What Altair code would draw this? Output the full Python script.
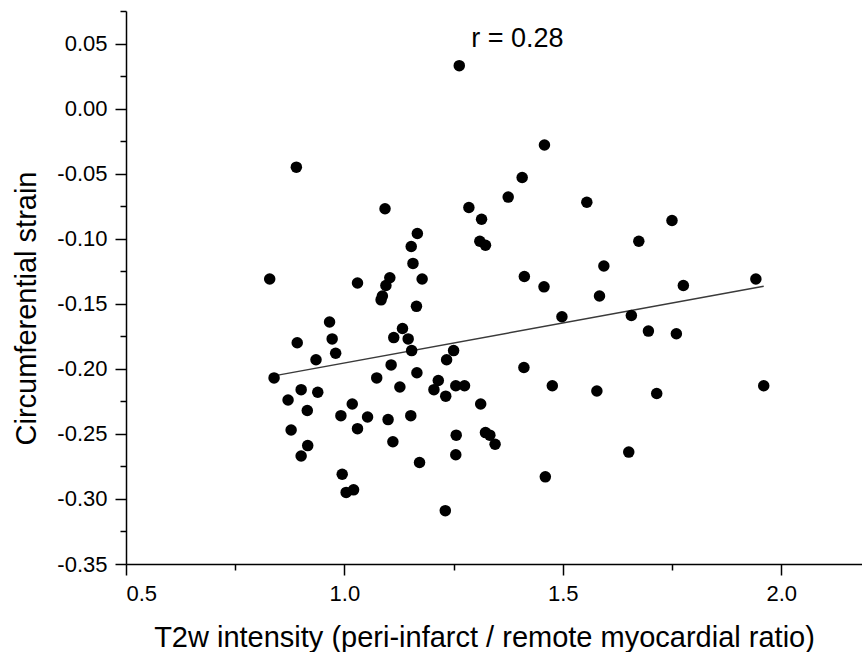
import altair as alt
import pandas as pd

# T2w intensity ratio (x) and circumferential strain (y)
t2w = [1.263, 0.890, 1.458, 1.407, 1.375, 1.093, 1.285, 1.314, 1.555, 1.750,
       1.167, 1.153, 1.310, 1.323, 1.157, 0.829, 1.030, 1.104, 1.095, 1.087,
       1.084, 1.178, 1.412, 1.457, 1.165, 0.966, 1.133, 1.113, 1.146, 0.892,
       0.972, 0.980, 1.154, 1.250, 0.935, 1.234, 1.107, 1.411, 1.166, 0.839,
       1.074, 1.215, 1.127, 1.205, 1.255, 1.275, 1.476, 0.901, 0.939, 1.232,
       0.871, 1.018, 1.312, 0.915, 0.992, 1.053, 1.100, 1.152, 0.878, 1.030,
       1.256, 1.323, 1.333, 1.345, 1.111, 0.916, 0.901, 1.255, 1.172, 0.995,
       1.004, 1.021, 1.231, 1.460, 1.651, 1.674, 1.594, 1.942, 1.776, 1.584,
       1.498, 1.657, 1.696, 1.760, 1.578, 1.715, 1.960]
strain = [0.033, -0.045, -0.028, -0.053, -0.068, -0.077, -0.076, -0.085, -0.072, -0.086,
          -0.096, -0.106, -0.102, -0.105, -0.119, -0.131, -0.134, -0.130, -0.136, -0.144,
          -0.147, -0.131, -0.129, -0.137, -0.152, -0.164, -0.169, -0.176, -0.177, -0.180,
          -0.177, -0.188, -0.186, -0.186, -0.193, -0.193, -0.197, -0.199, -0.203, -0.207,
          -0.207, -0.209, -0.214, -0.216, -0.213, -0.213, -0.213, -0.216, -0.218, -0.221,
          -0.224, -0.227, -0.227, -0.232, -0.236, -0.237, -0.239, -0.236, -0.247, -0.246,
          -0.251, -0.249, -0.251, -0.258, -0.256, -0.259, -0.267, -0.266, -0.272, -0.281,
          -0.295, -0.293, -0.309, -0.283, -0.264, -0.102, -0.121, -0.131, -0.136, -0.144,
          -0.160, -0.159, -0.171, -0.173, -0.217, -0.219, -0.213]

annot_x = [1.396]
annot_y = [0.0474]
annot_text = ["r = 0.28"]

x_major = [0.5, 1.0, 1.5, 2.0]
x_minor = [0.75, 1.25, 1.75]
y_major = [-0.35, -0.30, -0.25, -0.20, -0.15, -0.10, -0.05, 0.00, 0.05]
y_minor = [-0.325, -0.275, -0.225, -0.175, -0.125, -0.075, -0.025, 0.025, 0.075]

x_domain = [0.5, 2.185]
y_domain = [-0.35, 0.075]

FONT = "Liberation Sans"
W, H = 736, 553

df = pd.DataFrame({"x": t2w, "y": strain})
ann = pd.DataFrame({"x": annot_x, "y": annot_y, "t": annot_text})


def xs():
    return alt.Scale(domain=x_domain, nice=False, zero=False)


def ys():
    return alt.Scale(domain=y_domain, nice=False, zero=False)


base_axis = dict(grid=False, tickColor="black", labelColor="black", titleColor="black",
                 labelFont=FONT, titleFont=FONT, labelFontSize=22, titleFontSize=29,
                 titleFontWeight="normal", tickWidth=1.5)
main_axis = dict(base_axis, domainColor="black", domainWidth=1.5)

HYPHEN = "replace(datum.label, '\u2212', '-')"

line = alt.Chart(df).transform_regression("x", "y").mark_line(
    color="#3a3a3a", strokeWidth=1.4
).encode(
    x=alt.X("x:Q", scale=xs(),
            axis=alt.Axis(values=x_minor, labels=False, domain=False, title=None,
                          orient="bottom", tickSize=6, **base_axis)),
    y=alt.Y("y:Q", scale=ys(),
            axis=alt.Axis(values=y_minor, labels=False, domain=False, title=None,
                          orient="left", tickSize=6, **base_axis)),
)

points = alt.Chart(df).mark_circle(size=132, color="black", opacity=1).encode(
    x=alt.X("x:Q", scale=xs(),
            axis=alt.Axis(values=x_major, format=".1f", orient="bottom", tickSize=11,
                          labelPadding=8,
                          title="T2w intensity (peri-infarct / remote myocardial ratio)",
                          titleX=358, titleY=82, titleAlign="center",
                          titleBaseline="alphabetic", **main_axis)),
    y=alt.Y("y:Q", scale=ys(),
            axis=alt.Axis(values=y_major, format=".2f", labelExpr=HYPHEN,
                          orient="left", tickSize=11,
                          labelPadding=8, title="Circumferential strain",
                          titleX=-91, titleY=297, titleAngle=-90, titleAlign="center",
                          titleBaseline="alphabetic", **main_axis)),
)

text = alt.Chart(ann).mark_text(
    font=FONT, fontSize=27, color="black", align="center", baseline="alphabetic"
).encode(
    x=alt.X("x:Q", scale=xs(), axis=None),
    y=alt.Y("y:Q", scale=ys(), axis=None),
    text="t:N",
)

chart = alt.layer(line, points, text).resolve_scale(
    x="independent", y="independent"
).resolve_axis(
    x="independent", y="independent"
).properties(
    width=W, height=H,
    padding={"left": 126, "top": 11, "right": 0, "bottom": 88},
    autosize=alt.AutoSizeParams(type="none"),
    background="white",
).configure_view(strokeWidth=0)

chart.save("out.html", embed_options={"renderer": "svg", "actions": False})
